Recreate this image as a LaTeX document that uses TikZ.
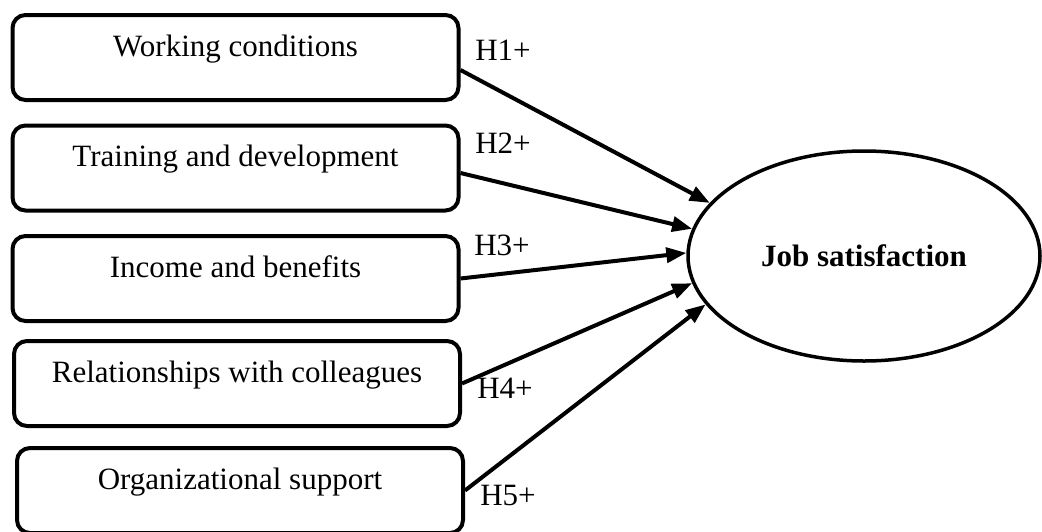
\documentclass[tikz,border=0pt]{standalone}
\usepackage{fontspec}
\setmainfont{Liberation Serif}
\usetikzlibrary{shapes.geometric,arrows.meta}
\begin{document}
\begin{tikzpicture}[x=1pt, y=-1pt, line width=4pt,
    factor/.style={draw, rectangle, rounded corners=13pt, minimum width=446pt,
      text height=25pt, text depth=28pt, inner ysep=16pt, font=\fontsize{31}{36}\selectfont},
    hyp/.style={font=\fontsize{31}{36}\selectfont},
    link/.style={-{Triangle[length=20pt,width=15pt]}}]
   \useasboundingbox (0,0) rectangle (1042,531);
   \node[factor] (b1) at (235.5,57.5) {Working conditions};
   \node[factor] (b2) at (235.5,168) {Training and development};
   \node[factor] (b3) at (235.5,278.5) {Income and benefits};
   \node[factor] (b4) at (237,383.5) {Relationships with colleagues};
   \node[factor] (b5) at (240,490.5) {Organizational support};
   \node[draw, ellipse, line width=3.5pt, minimum width=352pt, minimum height=210pt,
     font=\bfseries\fontsize{31}{36}\selectfont] (js) at (864,256) {Job satisfaction};
   \node[hyp] (l1) at (503,50) {H1+};
   \node[hyp] (l2) at (503,143) {H2+};
   \node[hyp] (l3) at (502,245) {H3+};
   \node[hyp] (l4) at (505,388) {H4+};
   \node[hyp] (l5) at (508,495) {H5+};
   \draw[link] ([yshift=-12.5pt]b1.east) -- (js.161);
   \draw[link] ([yshift=-5pt]b2.east) -- (js.171);
   \draw[link] (b3.east) -- (js.179);
   \draw[link] (b4.east) -- (js.189);
   \draw[link] (b5.east) -- (js.197);
\end{tikzpicture}
\end{document}
